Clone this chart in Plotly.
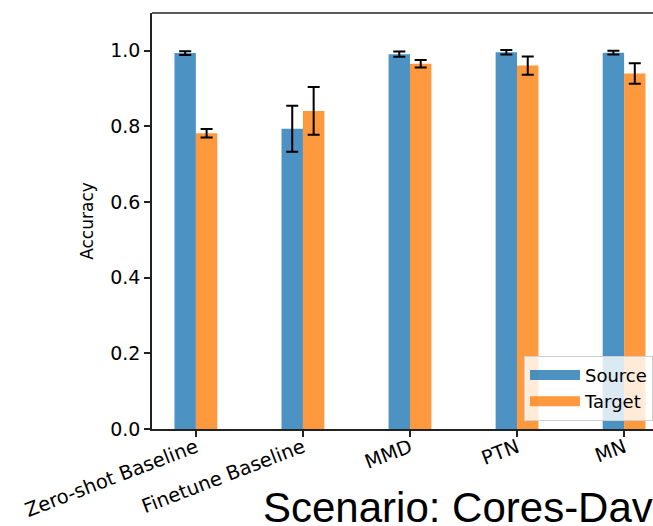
import plotly.graph_objects as go

categories = ["Zero-shot Baseline", "Finetune Baseline", "MMD", "PTN", "MN"]
source_vals = [0.994, 0.794, 0.991, 0.996, 0.995]
source_err = [0.005, 0.061, 0.007, 0.006, 0.005]
target_vals = [0.782, 0.841, 0.966, 0.961, 0.940]
target_err = [0.011, 0.063, 0.010, 0.024, 0.027]
y_ticks = [0.0, 0.2, 0.4, 0.6, 0.8, 1.0]

xpos = list(range(len(categories)))
W = 0.2
C_SRC = "rgba(31,119,180,0.8)"
C_TGT = "rgba(255,127,14,0.8)"

fig = go.Figure()
fig.add_trace(go.Bar(
    x=[p - W / 2 for p in xpos], y=source_vals, width=W, name="Source", showlegend=False,
    marker=dict(color=C_SRC, line=dict(width=0)),
    error_y=dict(type="data", array=source_err, color="black", thickness=2, width=6),
))
fig.add_trace(go.Bar(
    x=[p + W / 2 for p in xpos], y=target_vals, width=W, name="Target", showlegend=False,
    marker=dict(color=C_TGT, line=dict(width=0)),
    error_y=dict(type="data", array=target_err, color="black", thickness=2, width=6),
))
# legend patches (wide, like matplotlib)
fig.add_trace(go.Scatter(x=[None], y=[None], mode="lines", name="Source",
                         line=dict(color=C_SRC, width=12)))
fig.add_trace(go.Scatter(x=[None], y=[None], mode="lines", name="Target",
                         line=dict(color=C_TGT, width=12)))

fig.update_layout(
    width=653, height=526,
    margin=dict(l=152, r=0, t=13, b=97, autoexpand=False),
    plot_bgcolor="white", paper_bgcolor="white",
    barmode="overlay",
    font=dict(family="DejaVu Sans", color="black"),
    xaxis=dict(
        range=[-0.41, 4.27], tickmode="array", tickvals=xpos, ticktext=categories,
        tickangle=-21, ticks="outside", ticklen=6, tickwidth=1.5, tickcolor="#222",
        showline=True, linecolor="#222", linewidth=1.5, mirror=False,
        showgrid=False, zeroline=False, tickfont=dict(size=19.5), automargin=False,
        ticklabelstandoff=-8,
    ),
    yaxis=dict(
        range=[0, 1.1], tickmode="array", tickvals=y_ticks,
        ticktext=[f"{v:.1f}" for v in y_ticks],
        ticks="outside", ticklen=6, tickwidth=1.5, tickcolor="#222",
        showline=True, linecolor="#222", linewidth=1.5,
        showgrid=False, zeroline=False, tickfont=dict(size=19),
        title=dict(text="Accuracy", font=dict(size=17), standoff=12),
        automargin=False,
    ),
    legend=dict(
        x=(524 - 152) / 501, y=0.02, xanchor="left", yanchor="bottom",
        bgcolor="rgba(255,255,255,0.8)", bordercolor="#d0d0d0", borderwidth=1,
        font=dict(size=18), itemwidth=50,
    ),
    showlegend=True,
)
# top spine
fig.add_shape(type="line", xref="paper", yref="paper", x0=0, x1=1.2, y0=1, y1=1,
              line=dict(color="#222", width=1.5))
fig.add_annotation(
    text="Scenario: Cores-Davis", xref="paper", yref="paper",
    x=(261 - 152) / 501, y=-78 / 416, xanchor="left", yanchor="middle",
    showarrow=False, font=dict(family="Liberation Sans", size=42, color="black"),
)

fig.write_html("out.html", config={"displayModeBar": False},
               post_script="document.body.style.margin='0';document.body.style.overflow='hidden';")
